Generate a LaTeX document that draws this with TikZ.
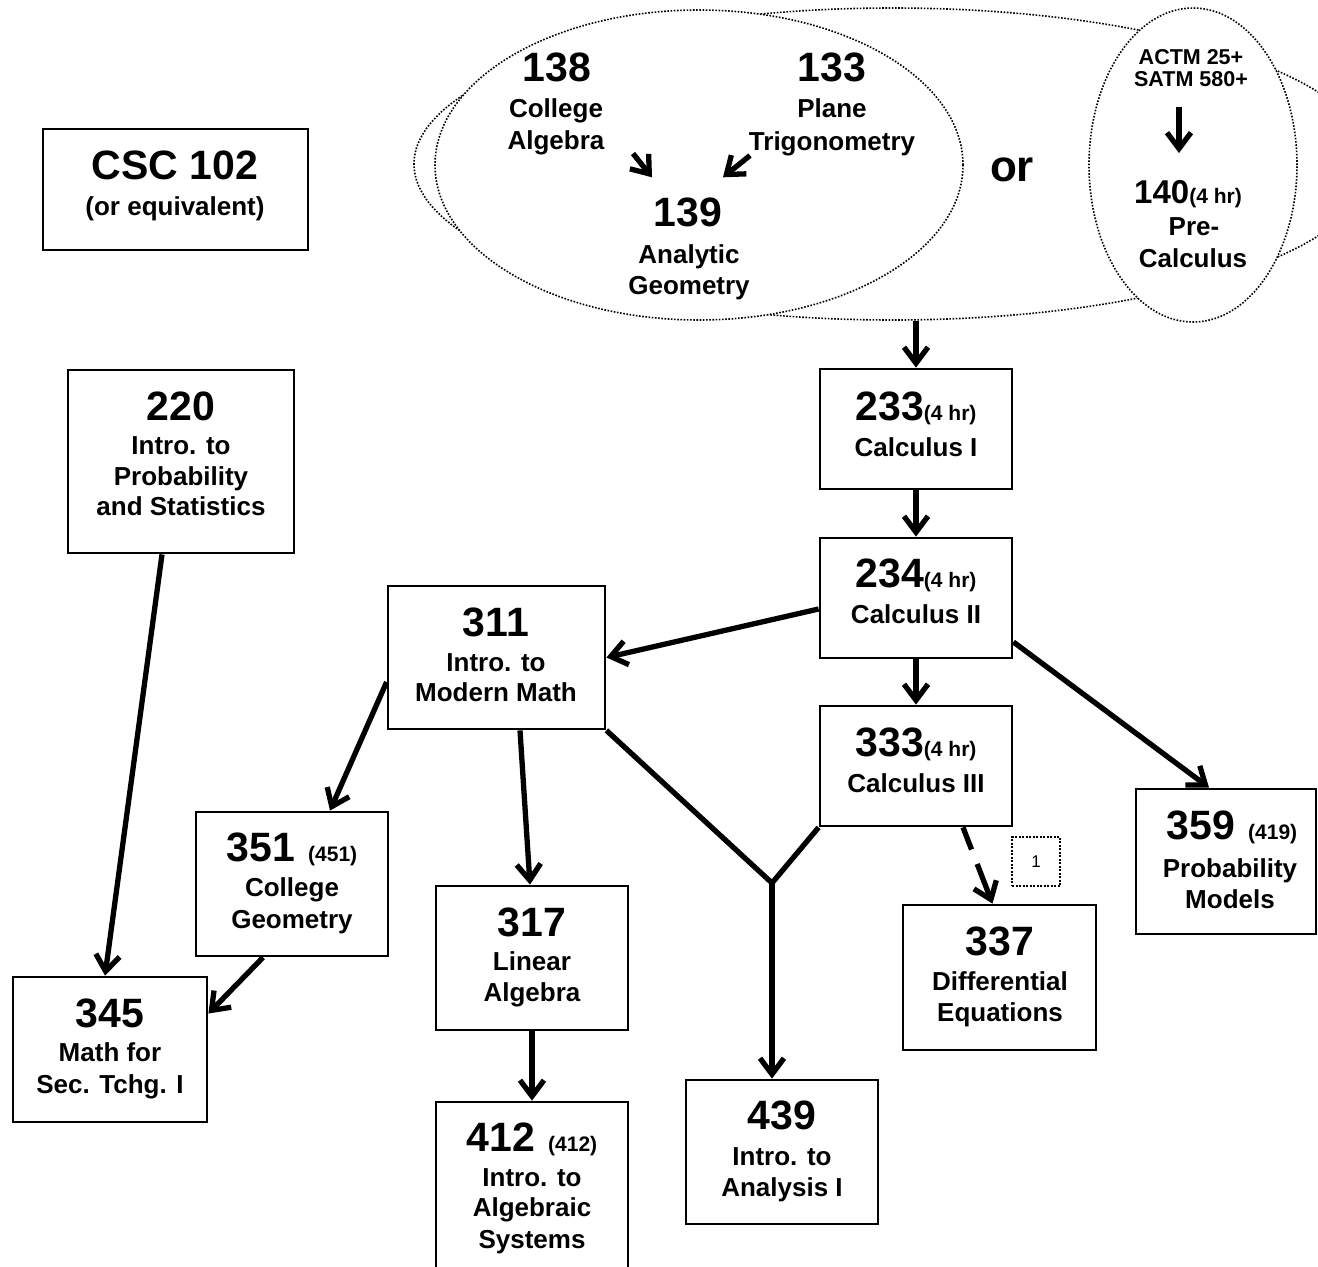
\documentclass[tikz,border=0pt]{standalone}
\usepackage{fontspec}
\setmainfont{Liberation Sans}
\usetikzlibrary{arrows.meta,shapes.geometric,calc}
\newcommand\myNum{\fontsize{41}{41}\selectfont\bfseries}
\newcommand\mySub{\fontsize{26}{31}\selectfont\bfseries}
\newcommand\myHr{\fontsize{21}{21}\selectfont\bfseries}
\begin{document}
\begin{tikzpicture}[x=1pt,y=-1pt,
  box/.style={draw, line width=2.8pt, rectangle, inner sep=0pt, fill=white},
  num/.style={font=\myNum, text height=29pt, text depth=0pt, inner sep=0pt},
  sub/.style={font=\mySub, text height=18.6pt, text depth=0pt, inner sep=0pt},
  conn/.style={line width=5.3pt, -{Straight Barb[length=16pt,width=24pt]}},
  link/.style={line width=5.3pt},
  dots/.style={line width=1.6pt, dash pattern=on 1.6pt off 1.6pt},
  oval/.style={ellipse, draw, dots, inner sep=0pt, fill=white},
]
\useasboundingbox (0,0) rectangle (1318,1267);
\fill[white] (0,0) rectangle (1318,1267);
\clip (0,0) rectangle (1318,1267);

% ---------- top group of ellipses ----------
\node[oval, minimum width=958pt, minimum height=312pt] (grp) at (893,164) {};
\node[oval, minimum width=528pt, minimum height=310pt] (alg) at (699,165) {};
\node[oval, minimum width=208pt, minimum height=314pt] (pre) at (1193,165) {};

\node[num] (t138) at (557,67) {138};
\node[sub] (t138a) at (556,108) {College};
\node[sub] (t138b) at (556,140) {Algebra};
\node[num] (t133) at (832,67) {133};
\node[sub] (t133a) at (832,108) {Plane};
\node[sub] (t133b) at (832,141) {Trigonometry};
\node[num] (t139) at (688,212) {139};
\node[sub] (t139a) at (689,254) {Analytic};
\node[sub] (t139b) at (689,285) {Geometry};

\node[font=\fontsize{44}{44}\selectfont\bfseries, inner sep=0pt, anchor=base] (tor) at (1012,181) {or};

\node[font=\fontsize{21.5}{21.5}\selectfont\bfseries, text height=15.5pt, text depth=0pt, inner sep=0pt] (tactm) at (1191,57) {ACTM 25+};
\node[font=\fontsize{21.5}{21.5}\selectfont\bfseries, text height=15.5pt, text depth=0pt, inner sep=0pt] (tsatm) at (1191,79) {SATM 580+};
\node[font=\fontsize{33}{33}\selectfont\bfseries, text height=23.5pt, text depth=0pt, inner sep=0pt] (t140) at (1188,192) {140{\myHr(4 hr)}};
\node[sub] (t140a) at (1194,226) {Pre-};
\node[sub] (t140b) at (1193,258) {Calculus};

% ---------- boxes ----------
\node[box, minimum width=265pt, minimum height=121pt] (csc) at (175.5,189.5) {};
\node[box, minimum width=226pt, minimum height=183pt] (n220) at (181,461.5) {};
\node[box, minimum width=192pt, minimum height=120pt] (n233) at (916,429) {};
\node[box, minimum width=192pt, minimum height=120pt] (n234) at (916,598) {};
\node[box, minimum width=217pt, minimum height=143pt] (n311) at (496.5,657.5) {};
\node[box, minimum width=192pt, minimum height=120pt] (n333) at (916,766) {};
\node[box, minimum width=192pt, minimum height=144pt] (n351) at (292,884) {};
\node[box, minimum width=192pt, minimum height=144pt] (n317) at (532,958) {};
\node[box, minimum width=193pt, minimum height=145pt] (n337) at (999.5,977.5) {};
\node[box, minimum width=180pt, minimum height=145pt] (n359) at (1226,861.5) {};
\node[box, minimum width=194pt, minimum height=145pt] (n345) at (110,1049.5) {};
\node[box, minimum width=192pt, minimum height=200pt] (n412) at (532,1202) {};
\node[box, minimum width=192pt, minimum height=144pt] (n439) at (782,1152) {};
\node[draw, line width=2pt, dash pattern=on 2pt off 1.5pt, inner sep=0pt,
      minimum width=48pt, minimum height=49pt,
      font=\fontsize{17}{17}\selectfont] (one) at (1036,861.5) {1};

% ---------- box texts ----------
\node[num] (tcsc) at (175,165) {CSC 102};
\node[sub] (tcsca) at (175,206) {(or equivalent)};

\node[num] (t220) at (181,406) {220};
\node[sub] (t220a) at (181,445) {Intro. to};
\node[sub] (t220b) at (181,476) {Probability};
\node[sub] (t220c) at (181,506) {and Statistics};

\node[num] (t233) at (916,406) {233{\myHr(4 hr)}};
\node[sub] (t233a) at (916,447) {Calculus I};
\node[num] (t234) at (916,573) {234{\myHr(4 hr)}};
\node[sub] (t234a) at (916,614) {Calculus II};
\node[num] (t333) at (916,742) {333{\myHr(4 hr)}};
\node[sub] (t333a) at (916,783) {Calculus III};

\node[num] (t311) at (496,622) {311};
\node[sub] (t311a) at (496,662) {Intro. to};
\node[sub] (t311b) at (496,692) {Modern Math};

\node[num] (t351) at (292,847) {351\hspace{13pt}{\myHr(451)}};
\node[sub] (t351a) at (292,887) {College};
\node[sub] (t351b) at (292,919) {Geometry};

\node[num] (t345) at (110,1013) {345};
\node[sub] (t345a) at (110,1052) {Math for};
\node[sub] (t345b) at (110,1084) {Sec. Tchg. I};

\node[num] (t317) at (532,922) {317};
\node[sub] (t317a) at (532,961) {Linear};
\node[sub] (t317b) at (532,992) {Algebra};

\node[num] (t412) at (532,1137) {412\hspace{13pt}{\myHr(412)}};
\node[sub] (t412a) at (532,1177) {Intro. to};
\node[sub] (t412b) at (532,1207) {Algebraic};
\node[sub] (t412c) at (532,1239) {Systems};

\node[num] (t439) at (782,1115) {439};
\node[sub] (t439a) at (782,1156) {Intro. to};
\node[sub] (t439b) at (782,1187) {Analysis I};

\node[num] (t337) at (1000,941) {337};
\node[sub] (t337a) at (1000,981) {Differential};
\node[sub] (t337b) at (1000,1012) {Equations};

\node[num] (t359) at (1232,825) {359\hspace{13pt}{\myHr(419)}};
\node[sub] (t359a) at (1230,868) {Probability};
\node[sub] (t359b) at (1230,899) {Models};

% ---------- connectors ----------
\draw[conn] ($(t138b.south)+(77,4)$) -- ($(t139.north)+(-36,-20)$);
\draw[conn] ($(t133b.south)+(-82,5)$) -- ($(t139.north)+(35,-20)$);
\draw[conn] ($(tsatm.south)+(-12,20)$) -- ($(t140.north)+(-9,-27)$);

\draw[conn] (n233.north |- grp.south) -- (n233.north);
\draw[conn] (n233.south) -- (n234.north);
\draw[conn] ($(n234.west)+(0,11)$) -- (n311.east);
\draw[conn] (n234.south) -- (n333.north);
\draw[conn] ($(n234.east)+(0,44)$) -- ($(n359.north)+(-17,0)$);
\draw[conn] ($(n311.west)+(0,24.5)$) -- ($(n351.north)+(38,0)$);
\draw[conn] ($(n311.south)+(23.5,0)$) -- ($(n317.north)+(-2,0)$);
\coordinate (J) at (772,883);
\draw[link] (n311.south east) -- (J) -- (n333.south west);
\draw[conn] (J) -- (J |- n439.north);
\draw[conn] ($(n220.south)+(-19,0)$) -- ($(n345.north)+(-5,0)$);
\draw[conn] ($(n351.south)+(-29,0)$) -- ($(n345.east)+(0,-36)$);
\draw[conn] (n317.south) -- (n412.north);
% dashed connector 333 -> 337
\coordinate (dA) at ($(n333.south)+(47,0)$);
\coordinate (dB) at ($(n337.north)+(-7,0)$);
\draw[link] (dA) -- ($(dA)!0.29!(dB)$);
\draw[conn] ($(dA)!0.48!(dB)$) -- (dB);
\end{tikzpicture}
\end{document}
